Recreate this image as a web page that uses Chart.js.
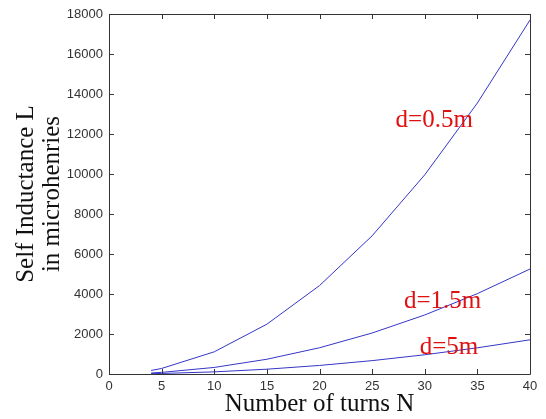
<!DOCTYPE html>
<html>
<head>
<meta charset="utf-8">
<script src="https://cdn.jsdelivr.net/npm/chart.js@4"></script>
<style>
html,body{margin:0;padding:0;background:#fff;}
#wrap{width:546px;height:419px;position:relative;}
</style>
</head>
<body>
<div id="wrap"><canvas id="c" width="546" height="419"></canvas></div>
<script>
const turnsN = [4, 5, 10, 15, 20, 25, 30, 35, 40];
const L_d05 = [177, 277, 1110, 2490, 4420, 6910, 9960, 13550, 17700];
const L_d15 = [52, 82, 328, 738, 1312, 2050, 2952, 4018, 5250];
const L_d5 = [17, 27, 107, 240, 428, 668, 962, 1310, 1710];
const xTicks = [0, 5, 10, 15, 20, 25, 30, 35, 40];
const yTicks = [0, 2000, 4000, 6000, 8000, 10000, 12000, 14000, 16000, 18000];
const curveLabels = [
  {text: 'd=0.5m', x: 30.9, y: 12700},
  {text: 'd=1.5m', x: 31.7, y: 3650},
  {text: 'd=5m', x: 32.3, y: 1350}
];

const lineColor = '#3535c8';
function pts(ys){ return turnsN.map((x,i)=>({x:x, y:ys[i]})); }

const boxPlugin = {
  id: 'boxPlugin',
  afterDatasetsDraw(chart){
    const ctx = chart.ctx, a = chart.chartArea;
    const xs = chart.scales.x, ys = chart.scales.y;
    ctx.save();
    ctx.strokeStyle = '#333';
    ctx.lineWidth = 1;
    ctx.beginPath();
    ctx.rect(Math.round(a.left)+0.5, Math.round(a.top)+0.5, Math.round(a.right-a.left), Math.round(a.bottom-a.top));
    ctx.stroke();
    const tl = 5;
    ctx.beginPath();
    xTicks.forEach(v=>{
      const px = Math.round(xs.getPixelForValue(v))+0.5;
      ctx.moveTo(px, a.bottom); ctx.lineTo(px, a.bottom - tl);
      ctx.moveTo(px, a.top); ctx.lineTo(px, a.top + tl);
    });
    yTicks.forEach(v=>{
      const py = Math.round(ys.getPixelForValue(v))+0.5;
      ctx.moveTo(a.left, py); ctx.lineTo(a.left + tl, py);
      ctx.moveTo(a.right, py); ctx.lineTo(a.right - tl, py);
    });
    ctx.stroke();
    ctx.fillStyle = '#e01010';
    ctx.font = '25px "Liberation Serif", "Times New Roman", serif';
    ctx.textAlign = 'center';
    ctx.textBaseline = 'middle';
    curveLabels.forEach(l=>{
      ctx.fillText(l.text, xs.getPixelForValue(l.x), ys.getPixelForValue(l.y));
    });
    ctx.restore();
  }
};

new Chart(document.getElementById('c'), {
  type: 'line',
  data: {
    datasets: [
      {label: 'd=0.5m', data: pts(L_d05)},
      {label: 'd=1.5m', data: pts(L_d15)},
      {label: 'd=5m', data: pts(L_d5)}
    ].map(d=>Object.assign(d, {borderColor: lineColor, borderWidth: 1, pointRadius: 0, tension: 0, fill: false}))
  },
  options: {
    responsive: false,
    animation: false,
    devicePixelRatio: 1,
    layout: {padding: {top: 14, right: 16, left: 0, bottom: 0}},
    plugins: {legend: {display: false}, tooltip: {enabled: false}},
    scales: {
      x: {
        type: 'linear', min: 0, max: 40,
        afterBuildTicks(s){ s.ticks = xTicks.map(v=>({value:v})); },
        afterFit(s){ s.height = 45; },
        grid: {display: false, drawTicks: false},
        border: {display: false},
        ticks: {padding: 5, color: '#333', font: {family: '"Liberation Sans", Arial, sans-serif', size: 13}, maxRotation: 0},
        title: {display: true, text: 'Number of turns N', color: '#111', font: {family: '"Liberation Serif", "Times New Roman", serif', size: 25}, padding: {top: 0, bottom: 0}}
      },
      y: {
        type: 'linear', min: 0, max: 18000,
        afterBuildTicks(s){ s.ticks = yTicks.map(v=>({value:v})); },
        afterFit(s){ s.width = 109; },
        grid: {display: false, drawTicks: false},
        border: {display: false},
        ticks: {padding: 6, color: '#333', font: {family: '"Liberation Sans", Arial, sans-serif', size: 13}, callback: v=>String(v)},
        title: {display: true, text: ['Self Inductance L', 'in microhenries'], color: '#111', font: {family: '"Liberation Serif", "Times New Roman", serif', size: 25, lineHeight: 1.05}, padding: {top: 13, bottom: 0}}
      }
    }
  },
  plugins: [boxPlugin]
});
</script>
</body>
</html>
